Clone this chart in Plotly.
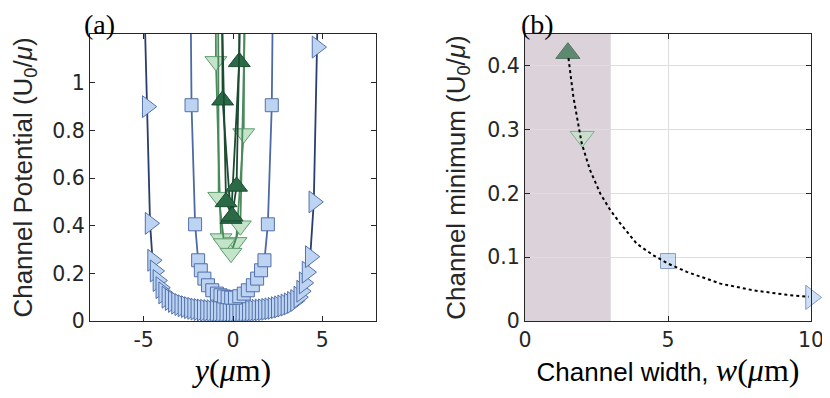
import plotly.graph_objects as go
from plotly.subplots import make_subplots

# ---- panel (a): channel potential profiles ----
# w = 10 um (navy line, right triangles)
y10 = [-5.05, -4.80, -4.64, -4.50, -4.36, -4.20, -4.04, -3.88, -3.70, -3.52,
       -3.34, -3.16, -2.98, -2.80, -2.62, -2.44, -2.26, -2.08, -1.90, -1.72,
       -1.54, -1.36, -1.18, -1.00, -0.82, -0.64, -0.46, -0.28, -0.10, 0.08,
       0.26, 0.44, 0.62, 0.80, 0.98, 1.16, 1.34, 1.52, 1.70, 1.88,
       2.06, 2.24, 2.42, 2.60, 2.78, 2.96, 3.14, 3.32, 3.50, 3.68,
       3.84, 3.98, 4.14, 4.32, 4.52, 4.70, 4.86]
u10 = [1.60, 0.90, 0.41, 0.255, 0.21, 0.17, 0.14, 0.118, 0.100, 0.090,
       0.082, 0.075, 0.069, 0.064, 0.060, 0.056, 0.053, 0.050, 0.048, 0.046,
       0.045, 0.044, 0.043, 0.042, 0.042, 0.041, 0.041, 0.041, 0.041, 0.041,
       0.041, 0.042, 0.042, 0.043, 0.043, 0.044, 0.045, 0.046, 0.047, 0.049,
       0.051, 0.053, 0.056, 0.059, 0.063, 0.067, 0.072, 0.078, 0.086, 0.100,
       0.125, 0.160, 0.205, 0.27, 0.50, 1.15, 1.90]

# w = 5 um (blue line, squares)
y5 = [-2.40, -2.32, -2.12, -1.95, -1.80, -1.60, -1.40, -1.16, -0.90, -0.70,
      -0.50, -0.30, -0.10, 0.11, 0.35, 0.60, 0.83, 1.11, 1.35, 1.57,
      1.76, 1.95, 2.17, 2.26]
u5 = [1.60, 0.906, 0.406, 0.255, 0.213, 0.178, 0.150, 0.129, 0.115, 0.108,
      0.103, 0.100, 0.098, 0.098, 0.104, 0.115, 0.129, 0.150, 0.178, 0.213,
      0.255, 0.406, 0.906, 1.60]

# w = 2 um (light green, down triangles), two traces
y2a = [-0.98, -0.955, -0.67, -0.30, 0.17, 0.60, 0.66]
u2a = [1.60, 1.09, 0.346, 0.31, 0.33, 0.787, 1.60]
y2b = [-0.84, -0.80, -0.49, -0.11, 0.41, 0.76]
u2b = [1.60, 0.52, 0.325, 0.285, 0.40, 1.60]

# w = 1.5 um (dark green, up triangles), two traces
y15a = [-0.64, -0.58, -0.11, 0.35, 0.38]
u15a = [1.60, 0.927, 0.43, 1.088, 1.60]
y15b = [-0.70, -0.39, -0.05, 0.20, 0.47]
u15b = [1.60, 0.50, 0.44, 0.565, 1.60]

# ---- panel (b): channel minimum vs width ----
width_pts = [1.5, 2, 5, 10]
min_pts = [0.42, 0.289, 0.094, 0.037]
width_curve = [1.52, 1.69, 1.98, 2.27, 2.63, 2.98, 3.33, 3.91, 4.49, 5.0,
               5.66, 6.83, 8.0, 9.16, 9.92]
min_curve = [0.412, 0.352, 0.279, 0.237, 0.200, 0.174, 0.153, 0.121, 0.103, 0.090,
             0.077, 0.0586, 0.048, 0.041, 0.038]

light_blue = "#bcd3f2"
blue_edge = "#5271aa"
navy = "#2a3d6e"
mid_blue = "#4d6aa6"
dark_green = "#2a6a46"
dark_green_line = "#1d4b31"
light_green = "#c3e4c8"
light_green_edge = "#5e9c6e"
light_green_line = "#4b8a5c"
axis_col = "#262626"

# the page body adds an 8px margin, so the figure is a bit smaller than the window
W, H = 822, 390

fig = make_subplots(rows=1, cols=2)

def add_curve(x, y, line_col, sym, fill, edge, size, col):
    fig.add_trace(
        go.Scatter(
            x=x, y=y, mode="lines+markers",
            line=dict(color=line_col, width=1.8),
            marker=dict(symbol=sym, size=size, color=fill,
                        line=dict(color=edge, width=1)),
            showlegend=False,
        ),
        row=1, col=col,
    )

add_curve(y10, u10, navy, "triangle-right", light_blue, blue_edge, 19, 1)
add_curve(y5, u5, mid_blue, "square", light_blue, blue_edge, 13, 1)
add_curve(y2a, u2a, light_green_line, "triangle-down", light_green, light_green_edge, 19, 1)
add_curve(y2b, u2b, light_green_line, "triangle-down", light_green, light_green_edge, 19, 1)
add_curve(y15a, u15a, dark_green_line, "triangle-up", dark_green, dark_green_line, 19, 1)
add_curve(y15b, u15b, dark_green_line, "triangle-up", dark_green, dark_green_line, 19, 1)

# panel b: markers first, dotted curve on top
fig.add_trace(
    go.Scatter(
        x=width_pts, y=min_pts, mode="markers", cliponaxis=False,
        marker=dict(symbol=["triangle-up", "triangle-down", "square", "triangle-right"],
                    size=[21, 21, 15, 21],
                    color=[dark_green, light_green, light_blue, light_blue],
                    line=dict(color=[dark_green_line, light_green_edge, blue_edge, blue_edge], width=1)),
        showlegend=False,
    ),
    row=1, col=2,
)
fig.add_trace(
    go.Scatter(x=width_curve, y=min_curve, mode="lines",
               line=dict(color="black", width=2, dash="dot"), showlegend=False),
    row=1, col=2,
)

fig.add_shape(type="rect", xref="x2", yref="y2 domain", x0=0, x1=3, y0=0, y1=1,
              fillcolor="#dcd3da", line_width=0, layer="below")

tickfont = dict(family="DejaVu Sans", size=20.5, color=axis_col)
common = dict(showline=True, mirror="ticks", linecolor=axis_col, linewidth=1,
              ticks="inside", ticklen=5, tickcolor=axis_col, tickfont=tickfont,
              zeroline=False, automargin=False)

fig.update_xaxes(range=[-8, 8], tickvals=[-5, 0, 5], ticktext=["-5", "0", "5"],
                 showgrid=False, domain=[82 / W, 368 / W],
                 title=dict(text="<i>y</i>(<i>μ</i>m)", standoff=4,
                            font=dict(family="Liberation Serif", size=32, color="black")),
                 row=1, col=1, **common)
fig.update_yaxes(range=[0, 1.205], tickvals=[0, 0.2, 0.4, 0.6, 0.8, 1],
                 ticktext=["0", "0.2", "0.4", "0.6", "0.8", "1"], showgrid=False,
                 title=dict(text="Channel Potential (U<sub>0</sub>/<i>μ</i>)", standoff=12,
                            font=dict(family="Liberation Sans, Arial", size=26, color=axis_col)),
                 row=1, col=1, **common)

fig.update_xaxes(range=[0, 10], tickvals=[0, 5, 10], showgrid=True, gridcolor="#dedede",
                 domain=[517 / W, 803 / W],
                 title=dict(text="Channel width, <span style=\"font-family:'Liberation Serif';font-size:32px\"><i>w</i>(<i>μ</i>m)</span>",
                            standoff=4,
                            font=dict(family="Liberation Sans, Arial", size=26, color="black")),
                 row=1, col=2, **common)
fig.update_yaxes(range=[0, 0.45], tickvals=[0, 0.1, 0.2, 0.3, 0.4],
                 ticktext=["0", "0.1", "0.2", "0.3", "0.4"], showgrid=True, gridcolor="#dedede",
                 title=dict(text="Channel minimum (U<sub>0</sub>/<i>μ</i>)", standoff=14,
                            font=dict(family="Liberation Sans, Arial", size=26, color=axis_col)),
                 row=1, col=2, **common)
fig.update_yaxes(domain=[1 - 313 / H, 1 - 26 / H])

for txt, xp in [("(a)", 75 / W), ("(b)", 512 / W)]:
    fig.add_annotation(text=txt, x=xp, y=1.0, xref="paper", yref="paper",
                       xanchor="left", yanchor="top", showarrow=False, borderpad=0,
                       font=dict(family="Liberation Serif", size=28, color="black"))

fig.update_layout(
    width=W, height=H,
    margin=dict(l=0, r=0, t=0, b=0),
    plot_bgcolor="white", paper_bgcolor="white",
)

fig.write_html("out.html")
